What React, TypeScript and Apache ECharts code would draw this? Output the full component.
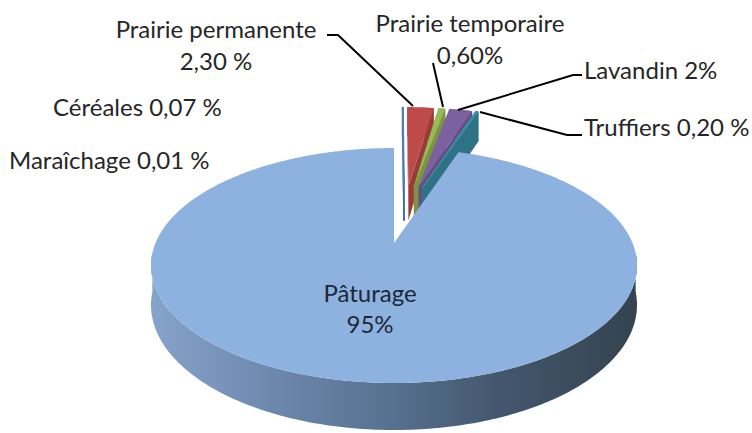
import { useEffect, useRef } from "react";
import * as echarts from "echarts";

// ---- data ----
const categories = [
  "Maraîchage",
  "Céréales",
  "Prairie permanente",
  "Prairie temporaire",
  "Lavandin",
  "Truffiers",
  "Pâturage",
];
const values = [0.01, 0.07, 2.3, 0.6, 2, 0.2, 95];
const valueLabels = ["0,01 %", "0,07 %", "2,30 %", "0,60%", "2%", "0,20 %", "95%"];
const colors = ["#A9C3E6", "#4F81BD", "#BE4B48", "#98B954", "#7D60A0", "#3A8FA6", "#8EB2DF"];

// ---- 3D projection (styling/geometry) ----
const XC = 394, YC = 243, A = 113.2, B = 238.5, K = 0.1915, D0 = 38;
const EXPLODE = 0.28;
function proj(u: number, v: number, z: number): number[] {
  const f = 1 / (1 + K * v);
  return [XC + B * u * f, YC - A * v * f + z * D0 * f];
}
const total = values.reduce((s, v) => s + v, 0);
const TWO_PI = Math.PI * 2;
const deg = (d: number) => (d * Math.PI) / 180;

function shade(hex: string, k: number) {
  const n = parseInt(hex.slice(1), 16);
  const r = Math.round(((n >> 16) & 255) * k);
  const g = Math.round(((n >> 8) & 255) * k);
  const b = Math.round((n & 255) * k);
  return `rgb(${r},${g},${b})`;
}

function sliceAngles(i: number) {
  let before = 0;
  for (let k = 0; k < i; k++) before += values[k];
  return [(before / total) * TWO_PI, ((before + values[i]) / total) * TWO_PI];
}
const largest = values.indexOf(Math.max(...values));
const [lA0, lA1] = sliceAngles(largest);
const lMid = (lA0 + lA1) / 2;
const CU = -EXPLODE * Math.sin(lMid), CV = -EXPLODE * Math.cos(lMid);

const renderItem = (params: any, api: any) => {
  const i = params.dataIndex;
  const val = api.value(0);
  const [a0, a1] = sliceAngles(i);
  const mid = (a0 + a1) / 2;
  const ou = CU + EXPLODE * Math.sin(mid);
  const ov = CV + EXPLODE * Math.cos(mid);
  const pt = (r: number, th: number, z: number) =>
    proj(ou + r * Math.sin(th), ov + r * Math.cos(th), z);
  const arc = (from: number, to: number, z: number) => {
    const n = Math.max(2, Math.ceil(Math.abs(to - from) / 0.015));
    const pts: number[][] = [];
    for (let s = 0; s <= n; s++) pts.push(pt(1, from + ((to - from) * s) / n, z));
    return pts;
  };
  const color = colors[i];
  const children: any[] = [];
  const tiny = val < 0.5;
  const big = i === largest;
  if (!big) {
    children.push({
      type: "polygon",
      shape: { points: arc(a0, a1, 0).concat(arc(a1, a0, 1)) },
      style: { fill: shade(color, 0.92), stroke: tiny ? shade(color, 0.92) : null, lineWidth: 1 },
    });
    children.push({
      type: "polygon",
      shape: { points: [pt(0, a0, 0), pt(1, a0, 0), pt(1, a0, 1), pt(0, a0, 1)] },
      style: { fill: shade(color, 0.9), stroke: tiny ? shade(color, 0.9) : null, lineWidth: 1 },
    });
    children.push({
      type: "polygon",
      shape: { points: [pt(0, a1, 0), pt(1, a1, 0), pt(1, a1, 1), pt(0, a1, 1)] },
      style: { fill: shade(color, 0.8), stroke: tiny ? shade(color, 0.8) : null, lineWidth: 1 },
    });
  }
  const w0 = Math.max(a0, deg(95)), w1 = Math.min(a1, deg(265));
  if (big && w1 > w0) {
    const pts = arc(w0, w1, 0).concat(arc(w1, w0, 1));
    children.push({
      type: "polygon",
      shape: { points: pts },
      style: {
        fill: new echarts.graphic.LinearGradient(0, 0, 1, 0, [
          { offset: 0, color: "#86A3CB" },
          { offset: 0.3, color: "#6983A7" },
          { offset: 0.5, color: "#56708F" },
          { offset: 0.7, color: "#455870" },
          { offset: 1, color: "#34434F" },
        ]),
      },
    });
  }
  children.push({
    type: "polygon",
    shape: { points: [pt(0, a0, 0)].concat(arc(a0, a1, 0)) },
    style: { fill: color, stroke: tiny ? color : null, lineWidth: 1 },
  });
  return { type: "group", children };
};

// ---- label placement (layout) ----
const FONT = "24px Lato";
type LabelPos = { x: number; y: number; align: string; twoLines: boolean; gap?: number };
const labelPos: LabelPos[] = [
  { x: 9, y: 159, align: "left", twoLines: false },
  { x: 53, y: 106, align: "left", twoLines: false },
  { x: 216, y: 28, align: "center", twoLines: true, gap: 32 },
  { x: 470, y: 22, align: "center", twoLines: true, gap: 32 },
  { x: 584, y: 69, align: "left", twoLines: false },
  { x: 584, y: 126, align: "left", twoLines: false },
  { x: 370, y: 292, align: "center", twoLines: true, gap: 31 },
];
const leaders: number[][][] = [
  [],
  [],
  [[327, 35], [338, 35], [413, 106]],
  [[433, 63], [443, 107]],
  [[458, 110], [573, 75], [582, 75]],
  [[480, 112], [567, 135], [582, 135]],
  [],
];

function buildGraphics() {
  const els: any[] = [];
  categories.forEach((name, i) => {
    const p = labelPos[i];
    const fill = i === largest ? "#1C2838" : "#262626";
    const mk = (text: string, x: number, y: number) => ({
      type: "text",
      x,
      y,
      z: 100,
      style: {
        text,
        font: FONT,
        fill,
        align: p.align,
        textAlign: p.align,
        verticalAlign: "middle",
        textVerticalAlign: "middle",
      },
    });
    if (p.twoLines) {
      els.push(mk(name, p.x, p.y));
      els.push(mk(valueLabels[i], p.x, p.y + (p.gap || 32)));
    } else {
      els.push(mk(name + " " + valueLabels[i], p.x, p.y));
    }
    if (leaders[i].length) {
      els.push({
        type: "polyline",
        z: 100,
        shape: { points: leaders[i] },
        style: { stroke: "#000", lineWidth: 2, fill: null },
      });
    }
  });
  return els;
}

export default function App() {
  const ref = useRef<HTMLDivElement>(null);
  useEffect(() => {
    if (!ref.current) return;
    const chart = echarts.init(ref.current, null, { renderer: "svg" });
    chart.setOption({
      animation: false,
      backgroundColor: "#ffffff",
      series: [
        {
          type: "custom",
          coordinateSystem: "none",
          silent: true,
          renderItem,
          data: values,
        },
      ],
      graphic: buildGraphics(),
    });
    return () => chart.dispose();
  }, []);
  return (
    <div
      ref={ref}
      style={{ position: "fixed", left: 0, top: 0, width: 752, height: 433, background: "#fff" }}
    />
  );
}
